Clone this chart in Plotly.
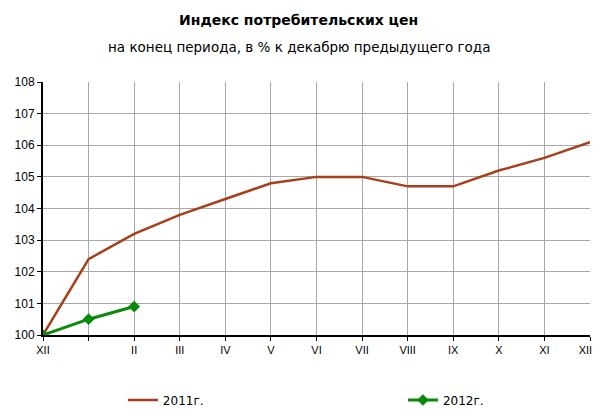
import plotly.graph_objects as go

# Данные: индекс потребительских цен, % к декабрю предыдущего года
meses = ['XII', '', 'II', 'III', 'IV', 'V', 'VI', 'VII', 'VIII', 'IX', 'X', 'XI', 'XII\u00a0\u00a0\u00a0']
valores_2011 = [100.0, 102.4, 103.2, 103.8, 104.3, 104.8, 105.0, 105.0, 104.7, 104.7, 105.2, 105.6, 106.1]
valores_2012 = [100.0, 100.5, 100.9]

fonte = 'Liberation Sans, Arial'
fonte_larga = 'DejaVu Sans, Liberation Sans'

fig = go.Figure()

fig.add_trace(go.Scatter(
    x=list(range(len(valores_2011))),
    y=valores_2011,
    mode='lines',
    name='2011г.',
    line=dict(color='#A5401A', width=2.5),
    legend='legend'
))

fig.add_trace(go.Scatter(
    x=list(range(len(valores_2012))),
    y=valores_2012,
    mode='lines+markers',
    name='2012г.',
    line=dict(color='#0A8A0A', width=3),
    marker=dict(symbol='diamond', size=9, color='#0A8A0A'),
    legend='legend2'
))

legenda = dict(
    orientation='h',
    xref='container', yref='container',
    yanchor='middle',
    y=0.02,
    font=dict(size=12, family=fonte_larga),
    itemwidth=30,
    bgcolor='rgba(0,0,0,0)',
)

# a página tem ~8px de margem, por isso a figura é um pouco menor
fig.update_layout(
    width=586,
    height=400,
    paper_bgcolor='white',
    plot_bgcolor='white',
    margin=dict(l=35, r=4, t=74, b=73, autoexpand=False),
    font=dict(family=fonte, size=12, color='black'),
    showlegend=True,
    legend=dict(legenda, x=0.196, xanchor='left'),
    legend2=dict(legenda, x=0.674, xanchor='left'),
    xaxis=dict(
        range=[0, 12],
        tickmode='array',
        tickvals=list(range(len(meses))),
        ticktext=meses,
        showgrid=True,
        gridcolor='#A8A8A8',
        gridwidth=1,
        showline=True,
        linecolor='black',
        linewidth=2,
        ticks='outside',
        ticklen=4,
        tickcolor='black',
        tickfont=dict(size=11, family=fonte),
        zeroline=False,
        automargin=False,
        ticklabeloverflow='allow',
    ),
    yaxis=dict(
        range=[100, 108],
        dtick=1,
        showgrid=True,
        gridcolor='#A8A8A8',
        gridwidth=1,
        showline=True,
        linecolor='black',
        linewidth=2,
        ticks='outside',
        ticklen=4,
        tickcolor='black',
        tickfont=dict(size=12, family=fonte),
        zeroline=False,
        automargin=False,
    ),
)

# Títulos em posição fixa, centrados na imagem
fig.add_annotation(text='<b>Индекс потребительских цен</b>', x=0.468, y=1.0, xref='paper', yref='paper',
                   yanchor='middle', yshift=62, showarrow=False, font=dict(size=14, family=fonte_larga))
fig.add_annotation(text='на конец периода, в % к декабрю предыдущего года', x=0.468, y=1.0, xref='paper',
                   yref='paper', yanchor='middle', yshift=35, showarrow=False, font=dict(size=13.5, family=fonte_larga))

fig.write_html('out.html')
